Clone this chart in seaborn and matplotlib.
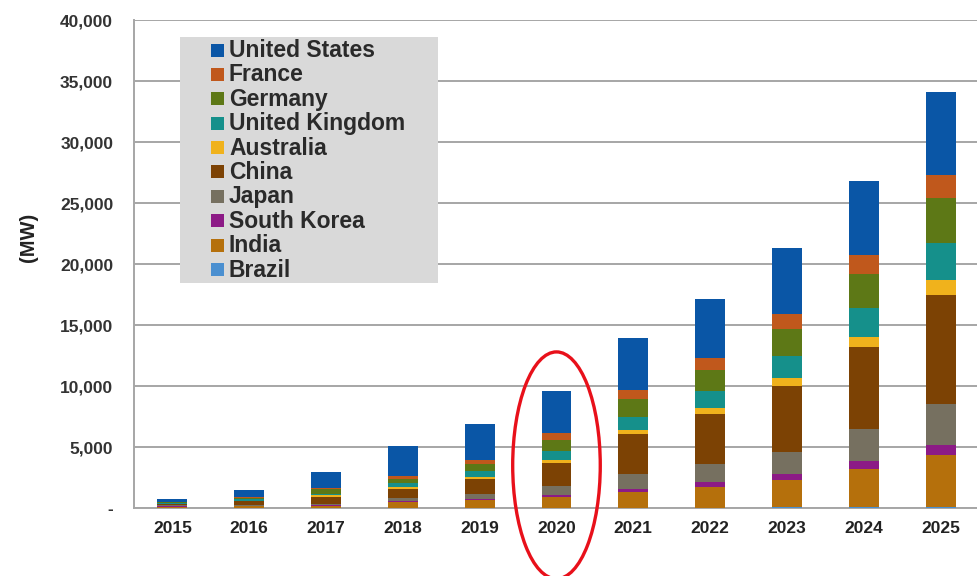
import numpy as np
import pandas as pd
import matplotlib
matplotlib.use("Agg")
import matplotlib.pyplot as plt
from matplotlib.patches import Rectangle, Ellipse
from matplotlib.ticker import FuncFormatter, MultipleLocator
import seaborn as sns

# years on the x axis
years = ['2015', '2016', '2017', '2018', '2019', '2020',
         '2021', '2022', '2023', '2024', '2025']

# capacity per country (MW), stacked bottom -> top
brazil = [20, 20, 20, 30, 30, 30, 40, 40, 50, 50, 60]
india = [100, 110, 150, 440, 600, 870, 1270, 1690, 2230, 3180, 4310]
south_korea = [20, 30, 50, 90, 140, 190, 270, 410, 550, 630, 770]
japan = [80, 100, 140, 270, 400, 710, 1230, 1490, 1790, 2580, 3410]
china = [120, 280, 530, 700, 1180, 1920, 3230, 4060, 5350, 6740, 8940]
australia = [20, 60, 140, 220, 190, 240, 330, 500, 660, 870, 1230]
united_kingdom = [50, 100, 160, 330, 490, 710, 1090, 1430, 1820, 2330, 3030]
germany = [60, 160, 340, 340, 600, 880, 1450, 1730, 2250, 2820, 3690]
france = [40, 60, 80, 220, 280, 600, 730, 960, 1230, 1570, 1880]
united_states = [270, 550, 1360, 2420, 3000, 3440, 4320, 4860, 5360, 6020, 6780]

countries = ['Brazil', 'India', 'South Korea', 'Japan', 'China', 'Australia',
             'United Kingdom', 'Germany', 'France', 'United States']
series = [brazil, india, south_korea, japan, china, australia,
          united_kingdom, germany, france, united_states]
colors = ['#4a8fd0', '#b5700c', '#8c1a86', '#767060', '#7c4204', '#f0b21c',
          '#15908b', '#5d7816', '#c0581c', '#0a56a6']

df = pd.DataFrame({'Year': years})
for name, vals in zip(countries, series):
    df[name] = vals
cum = df[countries].cumsum(axis=1)

sns.set_style('white')
plt.rcParams['font.family'] = ['Liberation Sans', 'DejaVu Sans']

W, H = 978, 576
fig = plt.figure(figsize=(W / 100, H / 100), dpi=100)
ax = fig.add_axes([0.137, 0.118, 0.864, 0.847])

# draw tallest cumulative first so lower stacks overlay it
for name, c in zip(countries[::-1], colors[::-1]):
    sns.barplot(x=df['Year'], y=cum[name], color=c, width=0.39,
                saturation=1, linewidth=0, edgecolor='none', ax=ax, zorder=3)

ax.set_ylim(0, 40000)
ax.set_xlim(-0.5, 10.5)
ax.yaxis.set_major_locator(MultipleLocator(5000))
ax.yaxis.set_major_formatter(FuncFormatter(lambda v, p: '-' if v == 0 else f'{int(v):,}'))
ax.grid(axis='y', color='#a6a6a6', linewidth=1.4, zorder=0)
ax.set_axisbelow(True)

for s in ['top', 'right']:
    ax.spines[s].set_visible(False)
for s in ['left', 'bottom']:
    ax.spines[s].set_color('#a6a6a6')
    ax.spines[s].set_linewidth(1.4)

ax.set_xticks(np.arange(11))
ax.set_xticklabels(years)
ax.set_xticks(np.arange(0.5, 10.5, 1), minor=True)
ax.tick_params(axis='x', which='major', length=0, pad=9, labelsize=12.5, labelcolor='#222222')
ax.tick_params(axis='x', which='minor', length=7, width=1.4, color='#a6a6a6', direction='out')
ax.tick_params(axis='y', length=0, pad=15, labelsize=12.5, labelcolor='#333333')
for lab in ax.get_xticklabels() + ax.get_yticklabels():
    lab.set_fontweight('bold')

ax.set_xlabel('')
ax.set_ylabel('(MW)', fontsize=14.5, fontweight='bold', color='#222222')
ax.yaxis.set_label_coords(-0.114, 0.555)

# legend: grey box with square swatches, US on top
fig.patches.append(Rectangle((180 / W, 1 - 283 / H), 258 / W, 246 / H,
                             transform=fig.transFigure, facecolor='#d9d9d9',
                             edgecolor='none', zorder=5))
for i, (name, c) in enumerate(zip(countries[::-1], colors[::-1])):
    yc = 50 + 24.4 * i
    fig.patches.append(Rectangle((211 / W, 1 - (yc + 6.5) / H), 13 / W, 13 / H,
                                 transform=fig.transFigure, facecolor=c,
                                 edgecolor='none', zorder=6))
    fig.text(229 / W, 1 - (yc + 0.5) / H, name, fontsize=16.5, fontweight='bold',
             color='#2a2a2a', va='center', ha='left', zorder=7)

# red highlight around 2020
ell = Ellipse((5, 3500), width=1.14, height=18600, fill=False,
              edgecolor='#e8101a', linewidth=2.4, clip_on=False, zorder=6)
ax.add_patch(ell)

fig.savefig('out.png', dpi=100)
